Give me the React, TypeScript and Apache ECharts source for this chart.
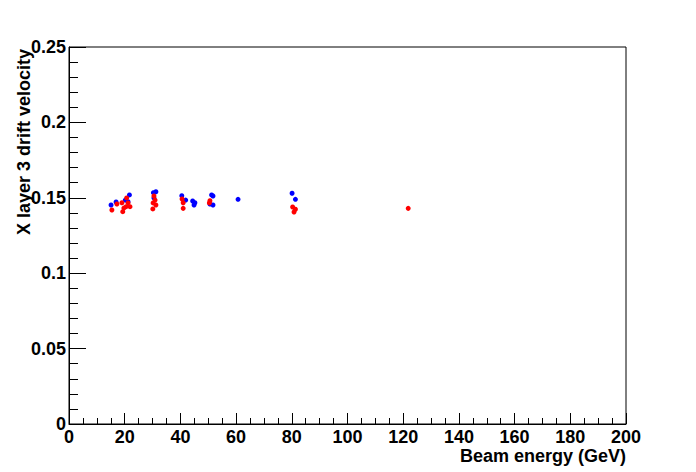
import React, { useEffect, useRef } from "react";
import * as echarts from "echarts";

const blueEnergy = [15.1, 16.9, 20.2, 21.2, 21.7, 30.3, 31.2, 30.5, 40.5, 41.9, 44.4, 45.2, 44.9, 51.2, 51.7, 50.6, 51.7, 60.7, 80.1, 81.3];
const blueVelocity = [0.1452, 0.1472, 0.1485, 0.1474, 0.1519, 0.1534, 0.154, 0.1499, 0.1514, 0.1485, 0.1479, 0.1467, 0.1452, 0.1519, 0.1512, 0.1459, 0.1452, 0.149, 0.153, 0.149];
const redEnergy = [15.4, 17.2, 19.3, 19.0, 20.7, 20.5, 21.9, 21.2, 19.7, 30.1, 30.9, 31.2, 30.2, 30.5, 41.0, 41.0, 40.6, 50.6, 50.4, 81.3, 80.3, 80.8, 121.8];
const redVelocity = [0.1419, 0.1459, 0.1408, 0.1467, 0.1499, 0.1441, 0.1441, 0.1466, 0.1432, 0.1426, 0.1485, 0.1452, 0.1466, 0.1512, 0.1467, 0.143, 0.1492, 0.1481, 0.1466, 0.1424, 0.1439, 0.1406, 0.143];

const xTitle = "Beam energy (GeV)";
const yTitle = "X layer 3 drift velocity";

const FONT = "'Liberation Sans', Arial, Helvetica, sans-serif";

export default function App() {
  const ref = useRef<HTMLDivElement>(null);
  useEffect(() => {
    if (!ref.current) return;
    const chart = echarts.init(ref.current, null, { renderer: "svg" });
    const zip = (xs: number[], ys: number[]) => xs.map((x, i) => [x, ys[i]]);
    chart.setOption({
      animation: false,
      backgroundColor: "#ffffff",
      grid: {
        left: 69,
        top: 47,
        width: 557,
        height: 377,
        show: true,
        borderColor: "#000",
        borderWidth: 1,
        backgroundColor: "transparent",
      },
      xAxis: {
        type: "value",
        min: 0,
        max: 200,
        interval: 20,
        axisLine: { show: true, lineStyle: { color: "#000", width: 1 } },
        axisTick: { show: true, inside: true, length: 11, lineStyle: { color: "#000" } },
        minorTick: { show: true, splitNumber: 4, length: 6, lineStyle: { color: "#000" } },
        splitLine: { show: false },
        axisLabel: {
          color: "#000",
          fontFamily: FONT,
          fontWeight: "bold",
          fontSize: 18,
          lineHeight: 18,
          margin: 4,
        },
      },
      yAxis: {
        type: "value",
        min: 0,
        max: 0.25,
        interval: 0.05,
        axisLine: { show: true, lineStyle: { color: "#000", width: 1 } },
        axisTick: { show: true, inside: true, length: 17, lineStyle: { color: "#000" } },
        minorTick: { show: true, splitNumber: 5, length: 9, lineStyle: { color: "#000" } },
        splitLine: { show: false },
        axisLabel: {
          color: "#000",
          fontFamily: FONT,
          fontWeight: "bold",
          fontSize: 18,
          margin: 3,
          formatter: (v: number) => String(parseFloat(v.toFixed(2))),
        },
      },
      graphic: [
        {
          type: "text",
          right: 70,
          top: 447,
          style: {
            text: xTitle,
            fontFamily: FONT,
            fontWeight: "bold",
            fontSize: 18,
            lineHeight: 18,
            fill: "#000",
          },
        },
        {
          type: "text",
          x: 15,
          y: 49,
          rotation: Math.PI / 2,
          style: {
            text: yTitle,
            fontFamily: FONT,
            fontWeight: "bold",
            fontSize: 18,
            fill: "#000",
            align: "right",
            verticalAlign: "top",
          },
        },
      ],
      series: [
        {
          type: "scatter",
          data: zip(blueEnergy, blueVelocity),
          symbol: "circle",
          symbolSize: 5,
          itemStyle: { color: "#0000ff", opacity: 1 },
        },
        {
          type: "scatter",
          data: zip(redEnergy, redVelocity),
          symbol: "circle",
          symbolSize: 5,
          itemStyle: { color: "#ff0000", opacity: 1 },
        },
      ],
    });
    return () => chart.dispose();
  }, []);
  return (
    <div
      ref={ref}
      style={{ position: "fixed", left: 0, top: 0, width: 696, height: 472, background: "#fff" }}
    />
  );
}
